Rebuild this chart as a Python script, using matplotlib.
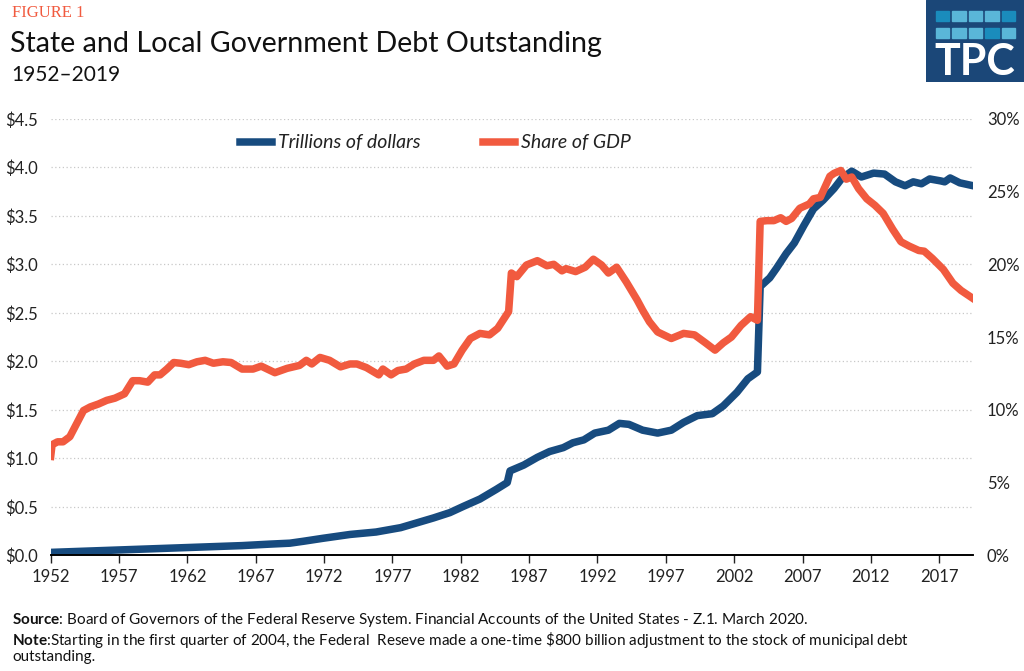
import matplotlib as mpl

mpl.use("Agg")
from matplotlib import pyplot as plt
from matplotlib.patches import Rectangle

plt.rcParams['font.family'] = ['Lato', 'DejaVu Sans']
plt.rcParams['mathtext.fontset'] = 'custom'
plt.rcParams['mathtext.rm'] = 'Lato'
plt.rcParams['mathtext.bf'] = 'Lato:bold'
plt.rcParams['mathtext.it'] = 'Lato:italic'

# debt outstanding, trillions of dollars
debt_years = [1952.0, 1954.0, 1956.0, 1958.0, 1960.0, 1962.0, 1964.0, 1966.0, 1968.0, 1969.5,
              1970.5, 1971.9, 1973.9, 1975.8, 1977.6, 1978.8, 1980.0, 1981.2, 1982.2, 1983.4,
              1984.6, 1985.4, 1985.6, 1986.6, 1987.6, 1988.5, 1989.5, 1990.2, 1991.0, 1991.8,
              1992.8, 1993.6, 1994.3, 1995.3, 1996.4, 1997.4, 1998.3, 1999.3, 2000.4, 2001.2,
              2002.2, 2003.0, 2003.7, 2003.9, 2004.6, 2005.1, 2005.8, 2006.4, 2007.1, 2007.8,
              2008.5, 2009.3, 2009.9, 2010.6, 2011.3, 2012.2, 2013.0, 2013.8, 2014.5, 2015.1,
              2015.7, 2016.3, 2017.1, 2017.4, 2017.8, 2018.5, 2019.47]
debt = [0.03, 0.04, 0.05, 0.06, 0.07, 0.08, 0.09, 0.10, 0.115, 0.125,
        0.145, 0.175, 0.215, 0.24, 0.285, 0.335, 0.385, 0.44, 0.505, 0.58,
        0.68, 0.75, 0.87, 0.93, 1.01, 1.07, 1.11, 1.16, 1.19, 1.26,
        1.29, 1.36, 1.35, 1.29, 1.26, 1.29, 1.37, 1.44, 1.46, 1.54,
        1.68, 1.82, 1.89, 2.77, 2.86, 2.96, 3.11, 3.22, 3.40, 3.57,
        3.66, 3.78, 3.89, 3.96, 3.90, 3.94, 3.93, 3.85, 3.81, 3.85,
        3.83, 3.88, 3.86, 3.85, 3.89, 3.84, 3.81]

# debt as share of GDP, percent
share_years = [1952.0, 1952.1, 1952.5, 1952.9, 1953.4, 1953.9, 1954.4, 1954.9, 1955.5, 1956.1,
               1956.7, 1957.4, 1958.0, 1958.5, 1959.1, 1959.6, 1960.0, 1960.5, 1961.0, 1961.5,
               1962.1, 1962.7, 1963.3, 1963.9, 1964.6, 1965.2, 1966.0, 1966.8, 1967.4, 1968.4,
               1969.3, 1970.2, 1970.7, 1971.1, 1971.7, 1972.4, 1973.2, 1973.9, 1974.4, 1975.1,
               1976.0, 1976.3, 1976.9, 1977.4, 1978.0, 1978.6, 1979.3, 1980.0, 1980.4, 1981.0,
               1981.5, 1982.1, 1982.7, 1983.4, 1984.1, 1984.7, 1985.5, 1985.7, 1986.1, 1986.8,
               1987.6, 1988.3, 1988.8, 1989.4, 1989.7, 1990.4, 1991.1, 1991.7, 1992.3, 1992.8,
               1993.4, 1994.1, 1994.9, 1995.3, 1995.8, 1996.4, 1997.4, 1998.3, 1999.1, 1999.9,
               2000.6, 2001.2, 2001.8, 2002.5, 2003.2, 2003.7, 2003.9, 2004.4, 2004.9, 2005.4,
               2005.8, 2006.2, 2006.8, 2007.5, 2007.8, 2008.3, 2009.0, 2009.3, 2009.8, 2010.2,
               2010.6, 2011.1, 2011.7, 2012.3, 2012.9, 2013.6, 2014.2, 2014.8, 2015.5, 2015.9,
               2016.5, 2017.3, 2018.0, 2018.6, 2019.47]
share = [6.8, 7.6, 7.8, 7.8, 8.15, 9.05, 9.95, 10.2, 10.4, 10.65,
         10.8, 11.1, 12.0, 12.0, 11.9, 12.4, 12.4, 12.8, 13.25, 13.2,
         13.1, 13.3, 13.4, 13.2, 13.3, 13.25, 12.8, 12.8, 13.0, 12.55,
         12.85, 13.05, 13.4, 13.15, 13.6, 13.4, 12.95, 13.15, 13.15, 12.9,
         12.4, 12.8, 12.4, 12.7, 12.8, 13.15, 13.4, 13.4, 13.7, 13.0,
         13.15, 14.1, 14.9, 15.25, 15.15, 15.6, 16.75, 19.4, 19.15, 19.95,
         20.25, 19.9, 20.0, 19.55, 19.7, 19.5, 19.8, 20.35, 19.95, 19.4,
         19.8, 18.8, 17.55, 16.85, 16.05, 15.35, 14.9, 15.25, 15.15, 14.6,
         14.1, 14.6, 15.0, 15.8, 16.4, 16.15, 22.95, 23.0, 23.0, 23.2,
         22.95, 23.15, 23.85, 24.15, 24.5, 24.6, 26.05, 26.25, 26.45, 25.85,
         26.0, 25.2, 24.5, 24.05, 23.5, 22.4, 21.55, 21.25, 20.95, 20.9,
         20.4, 19.65, 18.7, 18.2, 17.65]

x_ticks = list(range(1952, 2018, 5))
left_ticks = [0.0, 0.5, 1.0, 1.5, 2.0, 2.5, 3.0, 3.5, 4.0, 4.5]
right_ticks = [0, 5, 10, 15, 20, 25, 30]

BLUE = '#174b7f'
RED = '#f15a3f'
TXT = '#222222'

fig = plt.figure(figsize=(10.24, 6.71), dpi=100)
ax = fig.add_axes([50.7 / 1024, 1 - 555.3 / 671, (973 - 50.7) / 1024, (555.3 - 118.8) / 671])
ax2 = ax.twinx()

l1, = ax.plot(debt_years, debt, color=BLUE, lw=5.4, solid_joinstyle='round',
              label='Trillions of dollars')
l2, = ax2.plot(share_years, share, color=RED, lw=5.4, solid_joinstyle='round',
               label='Share of GDP')

ax.set_xlim(1952, 2019.47)
ax.set_ylim(0, 4.5)
ax2.set_ylim(0, 30)

ax.set_yticks(left_ticks)
ax.set_yticklabels(['$%.1f' % v for v in left_ticks])
ax2.set_yticks(right_ticks)
ax2.set_yticklabels(['%d%%' % v for v in right_ticks])
ax.set_xticks(x_ticks)
ax.set_xticklabels([str(y) for y in x_ticks])

ax.grid(axis='y', color='#c8c8c8', linestyle=(0, (1, 2)), lw=0.9)
ax.set_axisbelow(True)

for a in (ax, ax2):
    for s in ('top', 'left', 'right'):
        a.spines[s].set_visible(False)
    a.spines['bottom'].set_color('black')
    a.spines['bottom'].set_linewidth(1.2)

ax.tick_params(axis='x', direction='out', length=6, width=1, labelsize=12, pad=4, colors=TXT)
ax.tick_params(axis='y', length=0, labelsize=12, pad=9, colors=TXT)
ax2.tick_params(axis='y', length=0, labelsize=12, pad=10, colors=TXT)

leg = ax2.legend(handles=[l1, l2], loc='center left', bbox_to_anchor=(240 / 1024, 1 - 143 / 671),
                 bbox_transform=fig.transFigure, ncol=2, frameon=False, fontsize=14,
                 handlelength=1.65, handletextpad=0.3, columnspacing=3.2, borderpad=0,
                 borderaxespad=0)
for t in leg.get_texts():
    t.set_fontstyle('italic')
    t.set_color(TXT)

# header
fig.text(12 / 1024, 1 - 13 / 671, 'FIGURE 1', color=RED, fontsize=12,
         family=['Liberation Serif', 'DejaVu Serif'], va='center', ha='left')
fig.text(10 / 1024, 1 - 44 / 671, 'State and Local Government Debt Outstanding',
         fontsize=20.6, color='#111111', va='center', ha='left')
fig.text(11 / 1024, 1 - 75 / 671, '1952\u20132019', fontsize=15, color='#111111',
         va='center', ha='left')

# logo
logo_ax = fig.add_axes([925.5 / 1024, 1 - 82 / 671, (1024 - 925.5) / 1024, 82 / 671])
logo_ax.set_xlim(0, 98.5)
logo_ax.set_ylim(82, 0)
logo_ax.axis('off')
logo_ax.add_patch(Rectangle((0, 0), 98.5, 82, color='#1b4778'))
dark_sq = '#1a8cbc'
light_sq = '#5ab6d8'
sq_cols = [[dark_sq, light_sq, light_sq, light_sq, dark_sq],
           [light_sq, light_sq, light_sq, dark_sq, light_sq]]
for r, ytop in enumerate([11, 28]):
    for c in range(5):
        logo_ax.add_patch(Rectangle((10 + c * 16.6, ytop), 13.5, 10, color=sq_cols[r][c]))
logo_ax.text(49, 62, 'TPC', color='white', fontsize=31, fontweight='bold',
             ha='center', va='center', family=['Lato', 'DejaVu Sans'])

# footer
fig.text(12 / 1024, 1 - 620 / 671, r'$\bf{Source}$: Board of Governors of the Federal Reserve System. '
         'Financial Accounts of the United States - Z.1. March 2020.',
         fontsize=11, color='#111111', va='center', ha='left')
fig.text(12 / 1024, 1 - 640 / 671, r'$\bf{Note}$:Starting in the first quarter of 2004, the Federal  '
         'Reseve made a one-time \\$800 billion adjustment to the stock of municipal debt',
         fontsize=11, color='#111111', va='center', ha='left')
fig.text(12 / 1024, 1 - 657 / 671, 'outstanding.', fontsize=11, color='#111111',
         va='center', ha='left')

fig.savefig('out.png', dpi=100)
